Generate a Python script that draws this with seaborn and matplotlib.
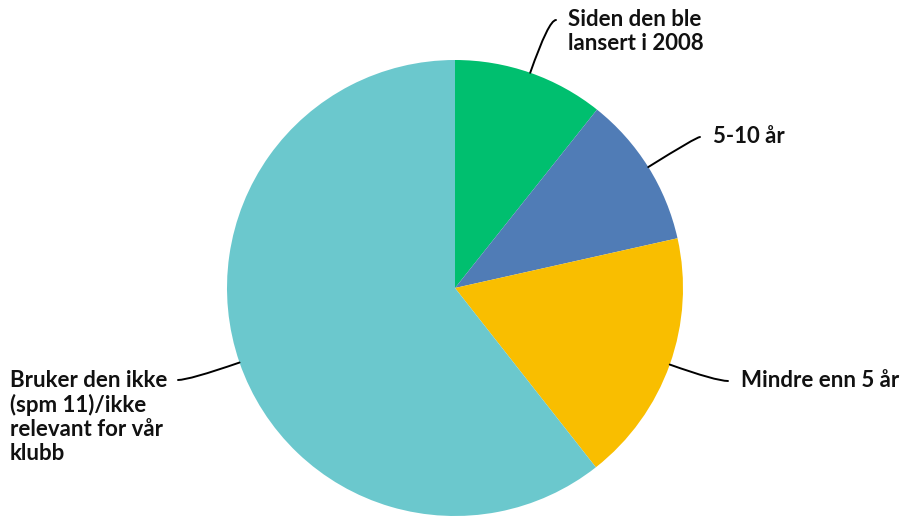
import numpy as np
import matplotlib
matplotlib.use("Agg")
import matplotlib.pyplot as plt
import seaborn as sns

# data
labels = ["Siden den ble\nlansert i 2008", "5-10 år", "Mindre enn 5 år",
          "Bruker den ikke\n(spm 11)/ikke\nrelevant for vår\nklubb"]
shares = [10.7, 10.8, 17.9, 60.6]
colors = ["#00BF6F", "#507CB6", "#F9BE00", "#6BC8CD"]

sns.set_theme(style="white")
plt.rcParams["font.family"] = ["Lato", "DejaVu Sans"]

W, H = 906, 517
cx, cy, R = 455, 288, 228  # pie centre / radius in pixels


def px(x, y):
    # pixel position -> data units (radius 1)
    return (x - cx) / R, (cy - y) / R


fig = plt.figure(figsize=(W / 100, H / 100), dpi=100)
ax = fig.add_axes([0, 0, 1, 1])
wedges, _ = ax.pie(shares, colors=colors, startangle=90, counterclock=False,
                   radius=1, center=(0, 0), wedgeprops=dict(linewidth=0))
ax.set_xlim(px(0, 0)[0], px(W, 0)[0])
ax.set_ylim(px(0, H)[1], px(0, 0)[1])
ax.set_aspect("equal")
ax.axis("off")

# where the leader line ends and where the text sits (pixels)
line_end = [(556, 20), (700, 137), (728, 381), (178, 380)]
text_pos = [(568, 20), (713, 137), (741, 381), (10, 381)]

for w, lab, le, tp in zip(wedges, labels, line_end, text_pos):
    mid = np.deg2rad((w.theta1 + w.theta2) / 2)
    rim = (np.cos(mid), np.sin(mid))
    ax.annotate("", xy=rim, xytext=px(*le),
                arrowprops=dict(arrowstyle="-", color="black", lw=1.4,
                                shrinkA=0, shrinkB=0,
                                connectionstyle=f"angle3,angleA=0,angleB={np.rad2deg(mid):.1f}"))
    tx, ty = px(tp[0], tp[1] - 11)
    ax.text(tx, ty, lab, ha="left", va="top", fontsize=16, fontweight="bold",
            color="#111111", linespacing=1.18)

fig.savefig("out.png", dpi=100)
